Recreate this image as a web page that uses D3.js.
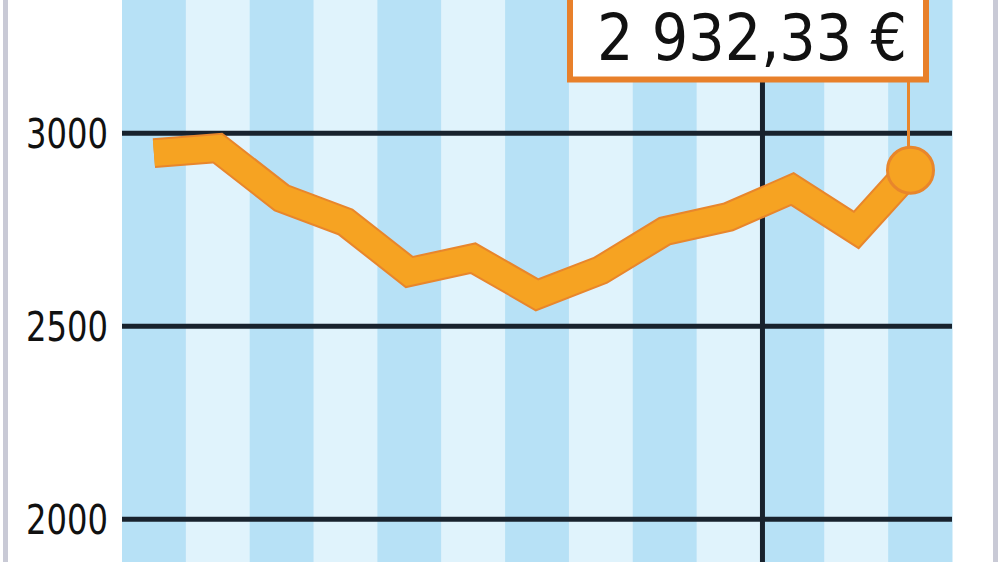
<!DOCTYPE html>
<html>
<head>
<meta charset="utf-8">
<script src="https://cdn.jsdelivr.net/npm/d3@7"></script>
<style>
  html, body { margin: 0; padding: 0; background: #fff; }
  svg { display: block; }
</style>
</head>
<body>
<svg id="chart" width="1000" height="562"></svg>
<script>
// Monthly values; last point is a mid-month reading
const months = [0, 1, 2, 3, 4, 5, 6, 7, 8, 9, 10, 11, 11.85];
const values = [2947, 2960, 2831, 2769, 2639, 2675, 2580, 2644, 2745, 2782, 2854, 2748, 2903];
const yTicks = [2000, 2500, 3000];
const stripes = d3.range(13);
const lastLabel = "2 932,33 €";
const yearBreak = 9.5;

const width = 1000, height = 562;
const svg = d3.select("#chart");

// Scales
const x = d3.scaleLinear().domain([-0.5, 12.5]).range([122, 952]);
const y = d3.scaleLinear().domain([2000, 3000]).range([518.7, 132.7]);

// Side frame bars
svg.append("rect").attr("x", 3).attr("y", 0).attr("width", 5).attr("height", height).attr("fill", "#c9cad6");
svg.append("rect").attr("x", 993).attr("y", 0).attr("width", 5).attr("height", height).attr("fill", "#c9cad6");

// Alternating background stripes
svg.append("g")
   .selectAll("rect")
   .data(stripes)
   .join("rect")
   .attr("x", d => x(d - 0.5))
   .attr("y", 0)
   .attr("width", x(1) - x(0) + 0.5)
   .attr("height", height)
   .attr("fill", d => d % 2 === 0 ? "#b7e1f6" : "#e0f3fc");

// Horizontal grid + tick labels
const axis = d3.axisLeft(y)
               .tickValues(yTicks)
               .tickSize(x(12.5) - x(-0.5))
               .tickPadding(14)
               .tickFormat(d3.format("d"));

const gAxis = svg.append("g")
                 .attr("transform", `translate(${x(12.5)},0)`)
                 .call(axis);
gAxis.select(".domain").remove();
gAxis.selectAll(".tick line")
     .attr("stroke", "#18222d")
     .attr("stroke-width", 5);
gAxis.selectAll(".tick text")
     .attr("fill", "#111")
     .attr("font-family", "'DejaVu Sans Condensed', 'DejaVu Sans', sans-serif")
     .attr("font-size", 41)
     .attr("dy", "0.36em")
     .attr("textLength", 82)
     .attr("lengthAdjust", "spacingAndGlyphs");

// Year separator
svg.append("line")
   .attr("x1", x(yearBreak) + 2).attr("x2", x(yearBreak) + 2)
   .attr("y1", 0).attr("y2", height)
   .attr("stroke", "#18222d")
   .attr("stroke-width", 5);

// The price line: darker outline under a lighter fill
const line = d3.line()
               .x((d, i) => x(months[i]))
               .y(d => y(d));

svg.append("path")
   .datum(values)
   .attr("d", line)
   .attr("fill", "none")
   .attr("stroke", "#e8862c")
   .attr("stroke-width", 30)
   .attr("stroke-linejoin", "miter")
   .attr("stroke-linecap", "butt");

svg.append("path")
   .datum(values)
   .attr("d", line)
   .attr("fill", "none")
   .attr("stroke", "#f6a322")
   .attr("stroke-width", 26)
   .attr("stroke-linejoin", "miter")
   .attr("stroke-linecap", "butt");

// Callout for the last value
const lastX = x(months[months.length - 1]);
const lastY = y(values[values.length - 1]);

svg.append("line")
   .attr("x1", lastX - 2).attr("x2", lastX - 2)
   .attr("y1", 80).attr("y2", lastY - 20)
   .attr("stroke", "#e8862c")
   .attr("stroke-width", 3);

svg.append("circle")
   .attr("cx", lastX)
   .attr("cy", lastY)
   .attr("r", 23)
   .attr("fill", "#f6a322")
   .attr("stroke", "#e8862c")
   .attr("stroke-width", 3);

svg.append("rect")
   .attr("x", 570)
   .attr("y", -10)
   .attr("width", 356)
   .attr("height", 89.5)
   .attr("fill", "#fff")
   .attr("stroke", "#e8802a")
   .attr("stroke-width", 6);

svg.append("text")
   .attr("x", 752)
   .attr("y", 60)
   .attr("text-anchor", "middle")
   .attr("fill", "#111")
   .attr("font-family", "'DejaVu Sans Condensed', 'DejaVu Sans', sans-serif")
   .attr("font-size", 64)
   .attr("textLength", 310)
   .attr("lengthAdjust", "spacingAndGlyphs")
   .text(lastLabel);
</script>
</body>
</html>
